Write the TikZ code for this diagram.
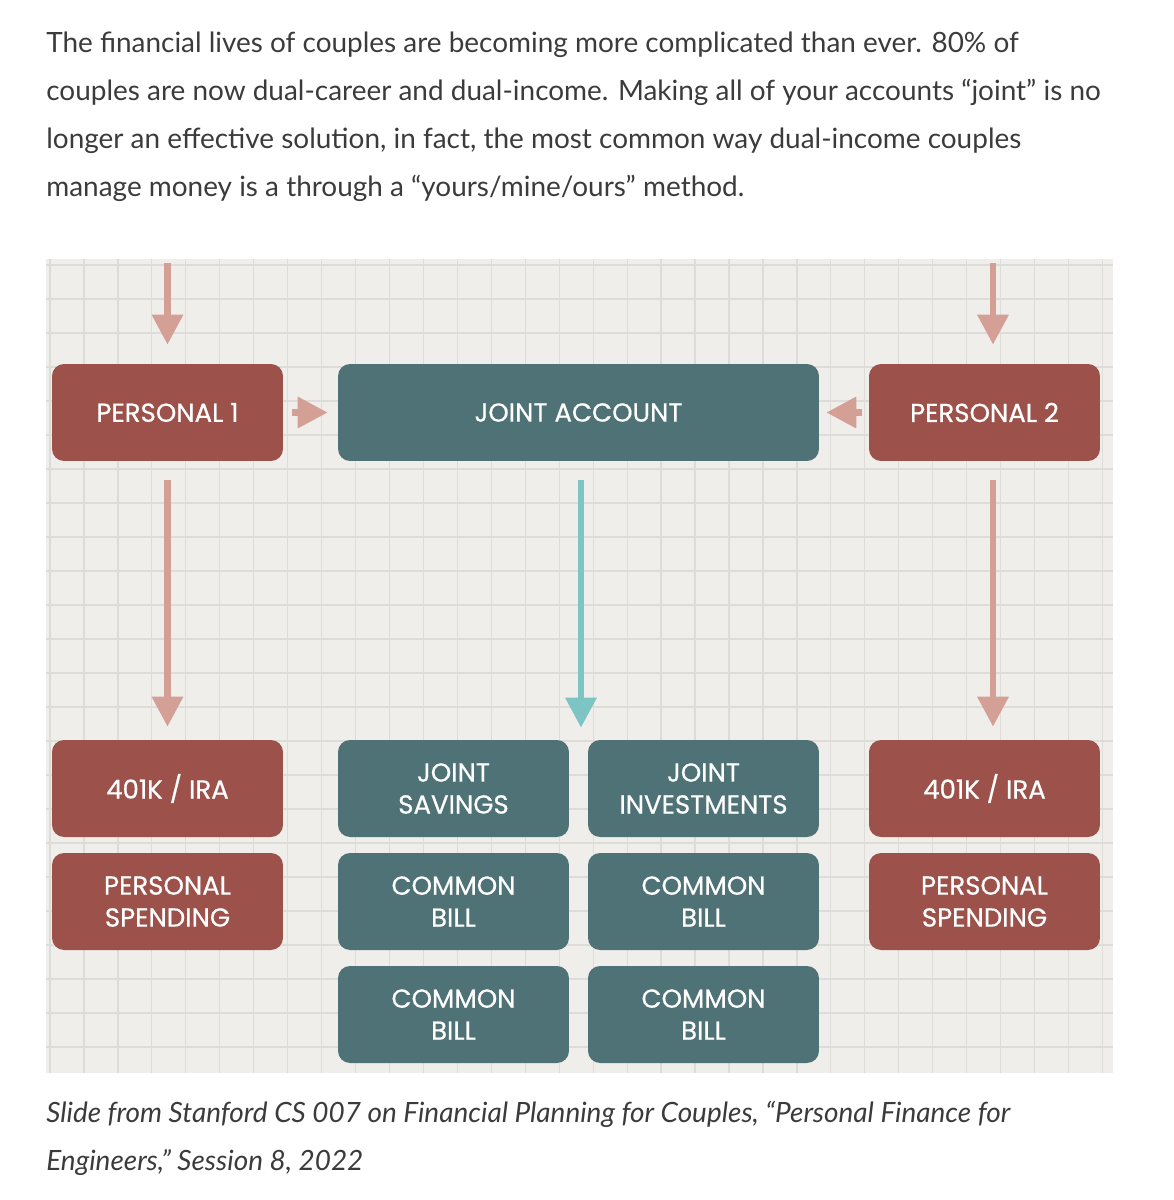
\documentclass[tikz,border=0pt]{standalone}
\usepackage{fontspec}
\setmainfont{Lato}
\newfontfamily\boxfont[FakeBold=0.6]{Poppins}
\usetikzlibrary{arrows.meta, positioning}

\definecolor{mineclr}{RGB}{156,82,74}
\definecolor{oursclr}{RGB}{78,114,118}
\definecolor{pinkarrow}{RGB}{212,160,150}
\definecolor{tealarrow}{RGB}{125,196,196}
\definecolor{paper}{RGB}{239,238,235}
\definecolor{gridclr}{RGB}{222,220,216}
\definecolor{inkclr}{RGB}{59,59,59}

\begin{document}
\begin{tikzpicture}[
    x=0.02cm, y=-0.02cm,
    bodytext/.style={anchor=base west, inner sep=0pt, text=inkclr, font=\fontsize{15.9}{19}\selectfont},
    captext/.style={bodytext, font=\fontsize{15.9}{19}\selectfont\itshape},
    box/.style={rounded corners=0.24cm, minimum width=4.62cm, minimum height=1.94cm, inner sep=0pt,
        align=center, text=white, font=\boxfont\fontsize{14.8}{18.2}\selectfont},
    mine/.style={box, fill=mineclr},
    ours/.style={box, fill=oursclr},
    flow/.style={line width=0.13cm, draw=pinkarrow, -{Triangle[length=0.6cm, width=0.6cm]}},
    jointflow/.style={flow, draw=tealarrow}
]
\useasboundingbox (0,0) rectangle (1173,1200);

\foreach \t [count=\i] in {%
    {The financial lives of couples are becoming more complicated than ever. 80\% of},
    {couples are now dual-career and dual-income. Making all of your accounts “joint” is no},
    {longer an effective solution, in fact, the most common way dual-income couples},
    {manage money is a through a “yours/mine/ours” method.}}
  \node[bodytext] (line\i) at (46,{52+48*(\i-1)}) {\t};

\fill[paper] (46,259) rectangle (1113,1073);
\foreach \x in {0,...,31} \draw[gridclr, line width=0.025cm] ({50+33.95*\x},259) -- ({50+33.95*\x},1073);
\foreach \y in {0,...,23} \draw[gridclr, line width=0.025cm] (46,{265+34*\y}) -- (1113,{265+34*\y});

\node[mine] (per1) at (167.5,412.5) {PERSONAL 1};
\node[ours, minimum width=9.62cm] (joint) at (578.5,412.5) {JOINT ACCOUNT};
\node[mine] (per2) at (984.5,412.5) {PERSONAL 2};

\node[mine] (ira1) at (167.5,788.5) {401K / IRA};
\node[ours] (sav) at (453.5,788.5) {JOINT\\SAVINGS};
\node[ours] (inv) at (703.5,788.5) {JOINT\\INVESTMENTS};
\node[mine] (ira2) at (984.5,788.5) {401K / IRA};

\node[mine] (spend1) at (167.5,901.5) {PERSONAL\\SPENDING};
\node[ours] (bill1) at (453.5,901.5) {COMMON\\BILL};
\node[ours] (bill2) at (703.5,901.5) {COMMON\\BILL};
\node[mine] (spend2) at (984.5,901.5) {PERSONAL\\SPENDING};

\node[ours] (bill3) at (453.5,1014.5) {COMMON\\BILL};
\node[ours] (bill4) at (703.5,1014.5) {COMMON\\BILL};

\coordinate (in1) at (167.5,263);
\coordinate (in2) at (993,263);
\coordinate (split) at ([xshift=0.05cm]joint.south |- sav.north);

\draw[flow, shorten >=0.38cm] (in1) -- (per1.north);
\draw[flow, shorten >=0.38cm] (in2) -- (in2 |- per2.north);
\draw[flow, shorten <=0.18cm, shorten >=0.2cm] (per1.east) -- (joint.west);
\draw[flow, shorten <=0.14cm, shorten >=0.14cm] (per2.west) -- (joint.east);
\draw[flow, shorten <=0.38cm, shorten >=0.26cm] (per1.south) -- (ira1.north);
\draw[flow, shorten <=0.38cm, shorten >=0.26cm] (in2 |- per2.south) -- (in2 |- ira2.north);
\draw[jointflow, shorten <=0.38cm, shorten >=0.24cm] (split |- joint.south) -- (split);

\node[captext] (cap1) at (46,1122) {Slide from Stanford CS 007 on Financial Planning for Couples, “Personal Finance for};
\node[captext] (cap2) at (46,1170) {Engineers,” Session 8, 2022};
\end{tikzpicture}
\end{document}
